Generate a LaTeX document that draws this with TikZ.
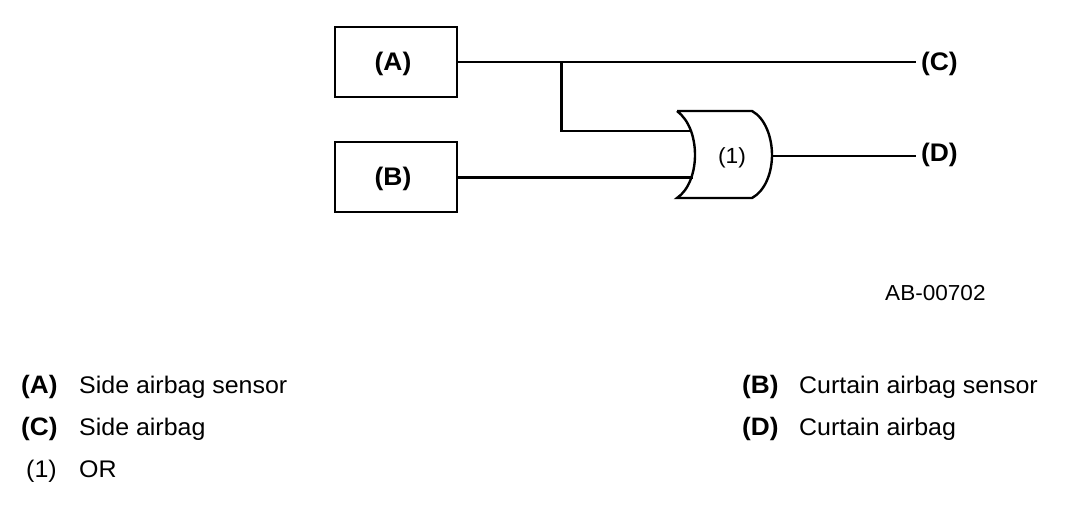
\documentclass[tikz,border=0pt]{standalone}
\usepackage{fontspec}
\setmainfont[FakeStretch=1.04]{Liberation Sans}
\tikzset{
    sensorbox/.style={draw, line width=2.2pt, outer sep=0pt, minimum width=122pt, minimum height=70pt, text height=21pt, text depth=5pt, execute at begin node=\hspace*{-6pt}, font=\bfseries\fontsize{25.4}{28}\selectfont},
    wire/.style={line width=2pt},
    branchwire/.style={line width=2.5pt},
    thickwire/.style={line width=3pt},
    endlabel/.style={anchor=base west, inner xsep=5pt, inner ysep=0pt, outer sep=0pt, font=\bfseries\fontsize{25.4}{28}\selectfont},
    keylabel/.style={anchor=base west, inner sep=0pt, font=\bfseries\fontsize{25.2}{28}\selectfont},
    keytext/.style={anchor=base west, inner sep=0pt, font=\fontsize{24}{26}\selectfont}
}
\begin{document}
\begin{tikzpicture}[x=1pt,y=-1pt]
    \useasboundingbox (0,0) rectangle (1072,504);
    % Boxes
    \node[sensorbox] (sideBox) at (396,62) {(A)};
    \node[sensorbox] (curtainBox) at (396,177) {(B)};
    % OR gate
    \draw[line width=2.4pt] (677,111) -- (752,111) .. controls (765,118) and (772,137) .. (772,155)
        .. controls (772,173) and (765,191) .. (752,198) -- (677,198)
        .. controls (689,190) and (695,172) .. (695,155)
        .. controls (695,137) and (689,120) .. (677,111);
    \node[anchor=base, inner sep=0pt, font=\fontsize{21.9}{24}\selectfont] (orLabel) at (732,163) {(1)};
    \coordinate (orInA) at (692,131);
    \coordinate (orInB) at (693,177);
    \coordinate (orOut) at (772,155.5);
    \coordinate (branch) at (561.5,62);
    % End labels
    \node[endlabel] (sideBag) at (916,70) {(C)};
    \node[endlabel] (curtainBag) at (916,161) {(D)};
    % Wires
    \draw[wire] (sideBox.east) -- (sideBox.east -| sideBag.west);
    \draw[branchwire] (branch) |- (orInA);
    \draw[thickwire] (curtainBox.east) -- (orInB);
    \draw[wire] (orOut) -- (orOut -| curtainBag.west);
    % Figure number
    \node[anchor=base west, inner sep=0pt, font=\fontsize{21.7}{24}\selectfont] (figNo) at (885,300) {AB-00702};
    % Key
    \node[keylabel] (keyA) at (21,393) {(A)};
    \node[keytext] (textA) at (79,393) {Side airbag sensor};
    \node[keylabel] (keyB) at (742,393) {(B)};
    \node[keytext] (textB) at (799,393) {Curtain airbag sensor};
    \node[keylabel] (keyC) at (21,435) {(C)};
    \node[keytext] (textC) at (79,435) {Side airbag};
    \node[keylabel] (keyD) at (742,435) {(D)};
    \node[keytext] (textD) at (799,435) {Curtain airbag};
    \node[keytext] (key1) at (26,477) {(1)};
    \node[keytext] (textOr) at (79,477) {OR};
\end{tikzpicture}
\end{document}
